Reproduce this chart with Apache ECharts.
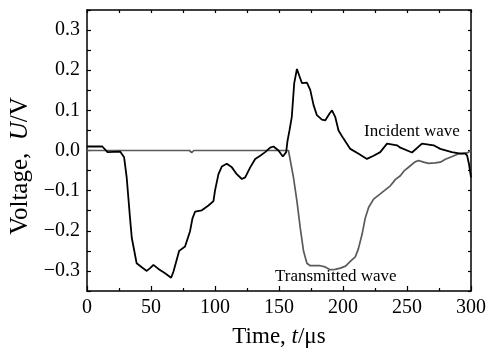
<!DOCTYPE html>
<html>
<head>
<meta charset="utf-8">
<script src="https://cdn.jsdelivr.net/npm/echarts@6/dist/echarts.min.js"></script>
<style>
html,body{margin:0;padding:0;background:#fff;}
#c{width:497px;height:353px;}
</style>
</head>
<body>
<div id="c"></div>
<script>
// Incident wave (black)
const incidentT = [0, 12, 16, 26, 29, 31, 32.3, 33.6, 35, 37, 38.8, 42.8, 46.7, 49.3, 51.9, 55.8, 61, 65.7, 67.5, 70.1, 72, 76.6, 80.5, 82.4, 84.5, 89.7, 94.9, 98.8, 100, 102.7, 105.3, 109.2, 113.2, 117, 121, 123.6, 127.5, 131.4, 135.3, 139.2, 143.1, 145.7, 149.6, 153, 155.6, 156.7, 158.2, 160, 161.9, 164, 166, 167.9, 171.8, 174.4, 177, 179.6, 183.5, 186.1, 189.5, 191.4, 193.9, 196.5, 200.5, 205.7, 212.2, 218.7, 223.9, 229.1, 234.4, 242.2, 244.8, 253.9, 261.7, 270.8, 276, 285, 291.7, 295.6, 297, 298.5, 300];
const incidentV = [0.010, 0.010, -0.004, -0.003, -0.017, -0.067, -0.117, -0.168, -0.218, -0.251, -0.281, -0.291, -0.300, -0.293, -0.285, -0.295, -0.306, -0.317, -0.302, -0.272, -0.250, -0.239, -0.201, -0.169, -0.152, -0.149, -0.137, -0.126, -0.100, -0.059, -0.040, -0.033, -0.042, -0.059, -0.071, -0.067, -0.042, -0.021, -0.013, -0.004, 0.007, 0.010, 0.000, -0.015, -0.004, 0.025, 0.050, 0.084, 0.168, 0.203, 0.185, 0.168, 0.169, 0.151, 0.113, 0.088, 0.077, 0.075, 0.092, 0.100, 0.084, 0.050, 0.029, 0.004, -0.008, -0.021, -0.013, -0.004, 0.017, 0.013, 0.007, -0.005, 0.017, 0.013, 0.004, -0.004, -0.008, -0.008, -0.013, -0.035, -0.067];

// Transmitted wave (grey)
const transmittedT = [0, 80, 81.8, 83.5, 155, 157.4, 161.3, 164, 166.6, 169.2, 171.8, 174.4, 182.2, 186, 190, 194, 197.9, 202, 205.7, 209.6, 212, 214.8, 217.4, 220, 223.9, 229.1, 233, 237, 241, 244.8, 248, 252.6, 256, 259, 263, 266.9, 272, 276, 280, 283.9, 290.4, 297, 300];
const transmittedV = [0, 0, -0.005, 0, 0, 0, -0.067, -0.126, -0.193, -0.251, -0.281, -0.287, -0.287, -0.290, -0.297, -0.296, -0.293, -0.288, -0.276, -0.265, -0.245, -0.210, -0.168, -0.142, -0.121, -0.108, -0.098, -0.088, -0.072, -0.063, -0.050, -0.038, -0.029, -0.025, -0.029, -0.032, -0.031, -0.029, -0.022, -0.017, -0.008, -0.006, 0];

const FONT = 'Liberation Serif, Times New Roman, serif';

function pairs(t, v) { return t.map((x, i) => [x, v[i]]); }

const chart = echarts.init(document.getElementById('c'), null, {renderer: 'canvas'});

const axisLineStyle = {color: '#000', width: 1.5};

chart.setOption({
  animation: false,
  backgroundColor: '#fff',
  grid: {left: 87, right: 26, top: 10, bottom: 62, containLabel: false},
  xAxis: [
    {
      type: 'value', position: 'bottom', min: 0, max: 300, interval: 50,
      axisLine: {show: true, onZero: false, lineStyle: axisLineStyle},
      axisTick: {show: true, inside: true, length: 5, lineStyle: {color: '#000', width: 1.2}},
      minorTick: {show: true, splitNumber: 2, length: 3, lineStyle: {color: '#000', width: 1.2}},
      axisLabel: {color: '#000', fontFamily: FONT, fontSize: 20, margin: 7},
      splitLine: {show: false}
    },
    {
      type: 'value', position: 'top', min: 0, max: 300, interval: 25,
      axisLine: {show: true, onZero: false, lineStyle: axisLineStyle},
      axisTick: {show: true, inside: true, length: 3, lineStyle: {color: '#000', width: 1.2}},
      axisLabel: {show: false},
      splitLine: {show: false}
    }
  ],
  yAxis: [
    {
      type: 'value', position: 'left', min: -0.35, max: 0.35, interval: 0.05,
      axisLine: {show: true, onZero: false, lineStyle: axisLineStyle},
      axisTick: {show: true, inside: true, length: 4, lineStyle: {color: '#000', width: 1.2}},
      axisLabel: {
        color: '#000', fontFamily: FONT, fontSize: 20, margin: 7,
        formatter: function (v) {
          const k = Math.round(v * 100);
          if (k % 10 !== 0) return '';
          const s = (Math.abs(k) / 100).toFixed(1);
          return k < 0 ? '\u2212' + s : s;
        }
      },
      splitLine: {show: false}
    },
    {
      type: 'value', position: 'right', min: -0.35, max: 0.35, interval: 0.05,
      axisLine: {show: true, onZero: false, lineStyle: axisLineStyle},
      axisTick: {show: true, inside: true, length: 3, lineStyle: {color: '#000', width: 1.2}},
      axisLabel: {show: false},
      splitLine: {show: false}
    }
  ],
  series: [
    {
      name: 'Transmitted wave', type: 'line', xAxisIndex: 0, yAxisIndex: 0,
      data: pairs(transmittedT, transmittedV), showSymbol: false, symbol: 'none',
      lineStyle: {color: '#5a5a5a', width: 1.7}, z: 2
    },
    {
      name: 'Incident wave', type: 'line', xAxisIndex: 0, yAxisIndex: 0,
      data: pairs(incidentT, incidentV), showSymbol: false, symbol: 'none',
      lineStyle: {color: '#000', width: 1.8}, z: 3
    }
  ],
  graphic: [
    {type: 'text', left: 364, top: 123, style: {text: 'Incident wave', font: '17px ' + FONT, fill: '#000'}},
    {type: 'text', left: 275, top: 268, style: {text: 'Transmitted wave', font: '17px ' + FONT, fill: '#000'}},
    {
      type: 'text', x: 279, y: 337,
      style: {
        text: 'Time, {i|t}/\u03bcs', font: '23px ' + FONT, fill: '#000', align: 'center', verticalAlign: 'middle',
        rich: {i: {fontStyle: 'italic', fontFamily: FONT, fontSize: 23}}
      }
    },
    {
      type: 'text', x: 20, y: 166, rotation: Math.PI / 2,
      style: {
        text: 'Voltage,  {i|U}/V', font: '25px ' + FONT, fill: '#000', align: 'center', verticalAlign: 'middle',
        rich: {i: {fontStyle: 'italic', fontFamily: FONT, fontSize: 25}}
      }
    }
  ]
});
</script>
</body>
</html>
